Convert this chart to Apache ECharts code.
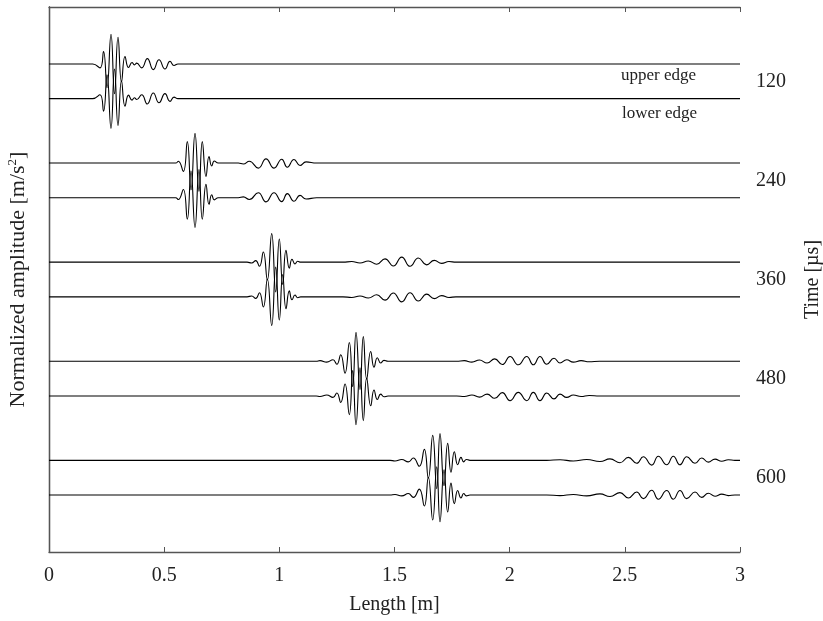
<!DOCTYPE html>
<html>
<head>
<meta charset="utf-8">
<script src="https://cdn.jsdelivr.net/npm/echarts@6/dist/echarts.min.js"></script>
<style>html,body{margin:0;padding:0;background:#fff;overflow:hidden}#c{width:823px;height:621px}</style>
</head>
<body>
<div id="c"></div>
<script>
// Time labels (right axis) [µs]
const timeTicks = [120, 240, 360, 480, 600];

// Positions along the beam [m] and normalized amplitudes
const x120 = [0, 0.19, 0.2214, 0.2366, 0.2518, 0.2692, 0.2844, 0.2996, 0.3148, 0.33, 0.3452, 0.3604, 0.3708, 0.3808, 0.4025, 0.4268, 0.4528, 0.4776, 0.5036, 0.5253, 0.5427, 0.56, 3];
const up120 = [0, 0, -0.13, 0.42, -0.8, 1.0, -1.0, 0.9, -0.6, 0.25, -0.12, 0.05, -0.03, 0.03, -0.13, 0.18, -0.19, 0.14, -0.17, 0.09, -0.05, 0, 0];
const lo120 = [0, 0, 0.13, -0.42, 0.8, -1.0, 1.0, -0.9, 0.6, -0.25, 0.12, -0.05, 0.03, -0.03, 0.13, -0.18, 0.19, -0.14, 0.17, -0.09, 0.05, 0, 0];

const x240 = [0, 0.55, 0.5614, 0.5831, 0.6004, 0.6165, 0.6339, 0.6512, 0.6656, 0.6816, 0.6947, 0.7064, 0.7177, 0.735, 0.8219, 0.8436, 0.8696, 0.9087, 0.9421, 0.9769, 1.0103, 1.0346, 1.0637, 1.0897, 1.1158, 1.1622, 3];
const up240 = [0, 0, 0.06, -0.28, 0.72, -0.9, 1.0, -0.95, 0.72, -0.45, 0.22, -0.1, 0.07, 0, 0, -0.03, 0.06, -0.17, 0.14, -0.17, 0.13, -0.14, 0.12, -0.08, 0.04, 0, 0];
const lo240 = [0, 0, -0.06, 0.28, -0.72, 0.9, -1.0, 0.95, -0.72, 0.45, -0.22, 0.1, -0.07, 0, 0, 0.03, -0.06, 0.17, -0.14, 0.17, -0.13, 0.14, -0.12, 0.08, -0.04, 0, 0];

const x360 = [0, 0.86, 0.88, 0.8975, 0.9135, 0.9304, 0.9478, 0.9669, 0.9843, 0.9999, 1.0146, 1.029, 1.0433, 1.055, 1.068, 1.0798, 1.0928, 1.2764, 1.3142, 1.3502, 1.3863, 1.4227, 1.4588, 1.4948, 1.5313, 1.5674, 1.6034, 1.6398, 1.6728, 1.7049, 1.7366, 1.767, 3];
const up360 = [0, 0, -0.03, 0.05, -0.14, 0.34, -0.6, 0.96, -1.0, 0.78, -0.75, 0.4, -0.2, 0.1, -0.06, 0.03, 0, 0, 0.02, -0.03, 0.04, -0.07, 0.11, -0.13, 0.17, -0.14, 0.14, -0.09, 0.06, -0.04, 0.02, 0, 0];
const lo360 = [0, 0, 0.03, -0.05, 0.14, -0.34, 0.6, -0.96, 1.0, -0.78, 0.75, -0.4, 0.2, -0.1, 0.06, -0.03, 0, 0, -0.02, 0.03, -0.04, 0.07, -0.11, 0.13, -0.17, 0.14, -0.14, 0.09, -0.06, 0.04, -0.02, 0, 0];

const x480 = [0, 1.16, 1.1766, 1.2057, 1.233, 1.2497, 1.2665, 1.2851, 1.3038, 1.3185, 1.3329, 1.3502, 1.3646, 1.3793, 1.3967, 1.411, 1.4254, 1.44, 1.4544, 1.4718, 1.77, 1.803, 1.836, 1.869, 1.902, 1.935, 1.968, 2.0015, 2.0375, 2.074, 2.1026, 2.1317, 2.1608, 2.1925, 2.2185, 2.2476, 2.2763, 2.31, 2.345, 2.39, 3];
const up480 = [0, 0, 0.02, -0.03, 0.05, -0.1, 0.22, -0.4, 0.63, -0.85, 0.97, -0.95, 0.83, -0.6, 0.33, -0.2, 0.12, -0.06, 0.03, 0, 0, 0.02, -0.03, 0.04, -0.06, 0.08, -0.11, 0.16, -0.12, 0.16, -0.12, 0.16, -0.1, 0.1, -0.06, 0.05, -0.03, 0.02, -0.015, 0, 0];
const lo480 = [0, 0, -0.02, 0.03, -0.05, 0.1, -0.22, 0.4, -0.63, 0.85, -0.97, 0.95, -0.83, 0.6, -0.33, 0.2, -0.12, 0.06, -0.03, 0, 0, -0.02, 0.03, -0.04, 0.06, -0.08, 0.11, -0.16, 0.12, -0.16, 0.12, -0.16, 0.1, -0.1, 0.06, -0.05, 0.03, -0.02, 0.015, 0, 0];

const x600 = [0, 1.4805, 1.5022, 1.5313, 1.56, 1.5817, 1.6077, 1.6294, 1.6468, 1.6659, 1.6833, 1.6976, 1.715, 1.731, 1.7453, 1.7597, 1.7744, 1.7887, 1.8004, 1.8117, 1.8278, 2.161, 2.2186, 2.2763, 2.3345, 2.3922, 2.4356, 2.479, 2.5151, 2.5515, 2.5802, 2.6167, 2.6453, 2.6818, 2.7104, 2.7395, 2.7686, 2.8046, 2.8337, 2.8624, 2.8915, 2.9206, 2.9492, 2.978, 3];
const up600 = [0, 0, -0.02, 0.03, -0.05, 0.08, -0.2, 0.37, -0.6, 0.84, -0.95, 0.9, -0.85, 0.57, -0.4, 0.29, -0.15, 0.1, -0.05, 0.03, 0, 0, 0.02, -0.02, 0.03, -0.04, 0.05, -0.08, 0.1, -0.1, 0.12, -0.16, 0.14, -0.15, 0.14, -0.15, 0.12, -0.1, 0.08, -0.06, 0.04, -0.03, 0.02, 0, 0];
const lo600 = [0, 0, 0.02, -0.03, 0.05, -0.08, 0.2, -0.37, 0.6, -0.84, 0.95, -0.9, 0.85, -0.57, 0.4, -0.29, 0.15, -0.1, 0.05, -0.03, 0, 0, -0.02, 0.02, -0.03, 0.04, -0.05, 0.08, -0.1, 0.1, -0.12, 0.16, -0.14, 0.15, -0.14, 0.15, -0.12, 0.1, -0.08, 0.06, -0.04, 0.03, -0.02, 0, 0];

const traces = [
  {t: 120, x: x120, up: up120, lo: lo120},
  {t: 240, x: x240, up: up240, lo: lo240},
  {t: 360, x: x360, up: up360, lo: lo360},
  {t: 480, x: x480, up: up480, lo: lo480},
  {t: 600, x: x600, up: up600, lo: lo600}
];

// display scaling (style): edge offset and amplitude gain in axis units
const EDGE_OFF = 21, GAIN = 36;
const FONT = '"Liberation Serif", "DejaVu Serif", serif';
const TXT = '#222';
const AX = '#555';
const FS = 20;

const series = [];
traces.forEach(tr => {
  series.push({
    type: 'line', xAxisIndex: 0, yAxisIndex: 1, showSymbol: false, smooth: 0.5,
    lineStyle: {color: '#000', width: 1.1}, silent: true,
    data: tr.x.map((xv, i) => [xv, tr.t - EDGE_OFF - tr.up[i] * GAIN])
  });
  series.push({
    type: 'line', xAxisIndex: 0, yAxisIndex: 1, showSymbol: false, smooth: 0.5,
    lineStyle: {color: '#000', width: 1.1}, silent: true,
    data: tr.x.map((xv, i) => [xv, tr.t + EDGE_OFF - tr.lo[i] * GAIN])
  });
});

const chart = echarts.init(document.getElementById('c'), null, {renderer: 'canvas'});
chart.setOption({
  animation: false,
  backgroundColor: '#fff',
  grid: {left: 49, right: 83, top: 7, bottom: 69, containLabel: false, outerBoundsMode: 'none'},
  xAxis: [
    {
      type: 'value', position: 'bottom', min: 0, max: 3, interval: 0.5,
      axisLine: {show: true, lineStyle: {color: AX, width: 1.3}},
      axisTick: {show: true, inside: true, length: 5, lineStyle: {color: AX}},
      axisLabel: {margin: 14, fontFamily: FONT, fontSize: FS, color: TXT},
      splitLine: {show: false},
      name: 'Length [m]', nameLocation: 'middle', nameGap: 43,
      nameTextStyle: {fontFamily: FONT, fontSize: FS, color: TXT}
    },
    {
      type: 'value', position: 'top', min: 0, max: 3, interval: 0.5,
      axisLine: {show: true, lineStyle: {color: AX, width: 1.3}},
      axisTick: {show: true, inside: true, length: 5, lineStyle: {color: AX}},
      axisLabel: {show: false}, splitLine: {show: false}
    }
  ],
  yAxis: [
    {
      type: 'value', position: 'left', min: 30, max: 690, inverse: true,
      axisLine: {show: true, lineStyle: {color: AX, width: 1.3}},
      axisTick: {show: false}, axisLabel: {show: false}, splitLine: {show: false},
      name: 'Normalized amplitude [m/s{sup|2}]', nameLocation: 'middle', nameGap: 19, nameRotate: 90,
      nameTextStyle: {
        fontFamily: FONT, fontSize: 22, color: TXT, lineHeight: 24,
        rich: {sup: {fontFamily: FONT, fontSize: 13, color: TXT, lineHeight: 12, verticalAlign: 'top'}}
      }
    },
    {
      type: 'value', position: 'right', min: 30, max: 690, interval: 30, inverse: true,
      axisLine: {show: true, lineStyle: {color: AX, width: 1.3}},
      axisTick: {show: false}, splitLine: {show: false},
      axisLabel: {
        margin: 16, fontFamily: FONT, fontSize: FS, color: TXT,
        formatter: v => timeTicks.includes(v) ? String(v) : ''
      },
      name: 'Time [µs]', nameLocation: 'middle', nameGap: 63, nameRotate: 90,
      nameTextStyle: {fontFamily: FONT, fontSize: FS, color: TXT}
    }
  ],
  graphic: [
    {type: 'text', left: 621, top: 67, style: {text: 'upper edge', font: '17px ' + FONT, fill: TXT}},
    {type: 'text', left: 622, top: 105, style: {text: 'lower edge', font: '17px ' + FONT, fill: TXT}}
  ],
  series: series
});
</script>
</body>
</html>
